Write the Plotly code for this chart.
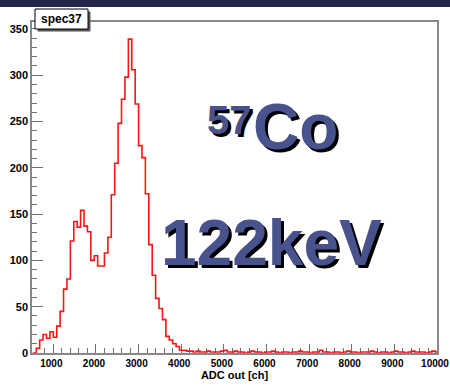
import plotly.graph_objects as go

# ---- data ----
bin_start = 520
bin_width = 80
counts_main = [0, 5, 14, 20, 16, 23, 17, 29, 45, 69, 80, 121, 142, 136, 154, 137, 131,
               100, 105, 94, 94, 108, 125, 171, 205, 248, 274, 298, 339, 306, 269, 224,
               211, 172, 117, 84, 59, 48, 36, 18, 14, 10, 7, 3]
counts_tail = [3, 2, 2, 1, 2, 1, 1, 2, 1, 1,
               1, 2, 3, 1, 1, 2, 1, 1, 0, 1,
               2, 1, 1, 0, 1, 1, 2, 1, 0, 1,
               1, 0, 1, 1, 2, 1, 1, 0, 1, 1,
               3, 1, 1, 0, 1, 1, 0, 1, 2, 1,
               1, 0, 1, 1, 1, 2, 1, 0, 1, 1,
               0, 1, 2, 1, 1, 0, 1, 2, 1, 1,
               1, 0, 1, 2, 1]
x_ticks = [1000, 2000, 3000, 4000, 5000, 6000, 7000, 8000, 9000, 10000]
x_ticktext = ["1000", "2000", "3000", "4000", "5000", "6000", "7000", "8000", "9000", "10000"]
y_ticks = [0, 50, 100, 150, 200, 250, 300, 350]
y_ticktext = ["0", "50", "100", "150", "200", "250", "300", "350"]

counts = counts_main + counts_tail
edges = [bin_start + i * bin_width for i in range(len(counts) + 1)]
xs = edges
ys = counts + [counts[-1]]

W, H = 450, 387
ML, MR, MT, MB = 32, 13, 22, 34
PW, PH = W - ML - MR, H - MT - MB


def px(x):
    return (x - ML) / PW


def py(y):
    return (H - MB - y) / PH


fig = go.Figure()
fig.add_trace(go.Scatter(x=xs, y=ys, mode="lines", line_shape="hv",
                         line=dict(color="rgb(255,20,20)", width=1.6),
                         hoverinfo="skip", showlegend=False))

lab_font = "Liberation Sans, Arial"
xtickfont = dict(family=lab_font, size=10, color="black", weight="bold")
ytickfont = dict(family=lab_font, size=11, color="black", weight="bold")

fig.update_layout(
    width=W, height=H,
    margin=dict(l=ML, r=MR, t=MT, b=MB, pad=0),
    paper_bgcolor="white", plot_bgcolor="white",
    xaxis=dict(range=[500, 10000], tickvals=x_ticks, ticktext=x_ticktext,
               ticks="inside", ticklen=9, automargin=False, ticklabeloverflow="allow",
               ticklabelshift=-2,
               tickcolor="#707070", tickwidth=1, showgrid=False, zeroline=False,
               showline=True, linecolor="#888888", linewidth=1.5, mirror=True,
               layer="below traces", tickfont=xtickfont,
               minor=dict(dtick=200, ticks="inside", ticklen=5, tickcolor="#707070",
                          showgrid=False),
               title=dict(text="ADC out [ch]", standoff=3,
                          font=dict(family=lab_font, size=11, color="black", weight="bold"))),
    yaxis=dict(range=[0, 357.5], tickvals=y_ticks, ticktext=y_ticktext,
               ticks="inside", ticklen=11, automargin=False, ticklabeloverflow="allow",
               tickcolor="#707070", tickwidth=1, showgrid=False, zeroline=False,
               showline=True, linecolor="#888888", linewidth=1.5, mirror=True,
               layer="below traces", tickfont=ytickfont,
               minor=dict(dtick=10, ticks="inside", ticklen=5, tickcolor="#707070",
                          showgrid=False)),
)

shapes = [
    # dark header band
    dict(type="rect", xref="paper", yref="paper", x0=px(-2), x1=px(W + 2),
         y0=py(7), y1=py(-2), fillcolor="#23264a", line=dict(width=0), layer="above"),
    # title box shadow
    dict(type="rect", xref="paper", yref="paper", x0=px(37.5), x1=px(90.5),
         y0=py(31.5), y1=py(11.5), fillcolor="#555555", line=dict(width=0), layer="above"),
    # title box
    dict(type="rect", xref="paper", yref="paper", x0=px(35), x1=px(88),
         y0=py(29), y1=py(9), fillcolor="white", line=dict(color="black", width=1),
         layer="above"),
]
fig.update_layout(shapes=shapes)

big_color = "#48528c"
big_font = "Liberation Sans, Arial"
ann = [
    dict(text="<b>spec37</b>", x=px(61.5), y=py(19), xanchor="center", yanchor="middle",
         font=dict(family="Liberation Sans, Arial", size=12, color="black")),
]
for txt, x0, ymid, size in [("57", 206, 120, 40), ("Co", 252, 127, 64), ("122keV", 160, 243, 64)]:
    ann.append(dict(text=txt, x=px(x0), y=py(ymid), xanchor="left", yanchor="middle",
                    borderpad=0,
                    font=dict(family=big_font, size=size, color=big_color, weight="bold",
                              shadow="3px 3px 0px black")))
for a in ann:
    a.update(xref="paper", yref="paper", showarrow=False)
fig.update_layout(annotations=ann)

fig.write_html("out.html")
